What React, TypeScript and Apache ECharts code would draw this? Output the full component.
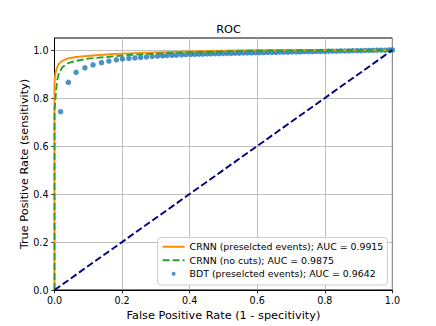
import React, { useEffect, useRef } from "react";
import * as echarts from "echarts";

const xTicks = [0, 0.2, 0.4, 0.6, 0.8, 1.0];
const yTicks = [0, 0.2, 0.4, 0.6, 0.8, 1.0];

const crnnFpr = [0, 0, 0.001, 0.003, 0.008, 0.013, 0.023, 0.04, 0.064, 0.104, 0.163, 0.218, 0.3, 0.4, 0.5, 0.6, 0.8, 1.0];
const crnnTpr = [0, 0.86, 0.885, 0.905, 0.928, 0.942, 0.955, 0.965, 0.971, 0.976, 0.982, 0.986, 0.99, 0.994, 0.997, 0.999, 1.0, 1.0];

const nocutFpr = [0, 0, 0.003, 0.005, 0.008, 0.013, 0.023, 0.04, 0.064, 0.104, 0.163, 0.218, 0.3, 0.4, 0.5, 0.6, 0.8, 1.0];
const nocutTpr = [0, 0.75, 0.8, 0.835, 0.875, 0.903, 0.928, 0.945, 0.955, 0.965, 0.972, 0.979, 0.985, 0.99, 0.994, 0.997, 1.0, 1.0];

const bdtFpr = [
  0.018, 0.041, 0.064, 0.09, 0.114, 0.139, 0.161, 0.183, 0.201, 0.22, 0.238, 0.255, 0.272, 0.289, 0.305, 0.32,
  0.333, 0.348, 0.361, 0.376, 0.389, 0.403, 0.415, 0.427, 0.439, 0.451, 0.463, 0.475, 0.487, 0.499, 0.511, 0.523,
  0.535, 0.547, 0.559, 0.571, 0.583, 0.595, 0.607, 0.619, 0.631, 0.643, 0.655, 0.667, 0.679, 0.691, 0.703, 0.715,
  0.727, 0.739, 0.751, 0.763, 0.775, 0.787, 0.799, 0.811, 0.823, 0.835, 0.847, 0.859, 0.871, 0.883, 0.895, 0.907,
  0.919, 0.931, 0.943, 0.955, 0.967, 0.979, 0.991, 1.0,
];
const bdtTpr = [
  0.743, 0.865, 0.907, 0.926, 0.938, 0.947, 0.954, 0.959, 0.963, 0.965, 0.967, 0.969, 0.971, 0.973, 0.975, 0.976,
  0.977, 0.978, 0.979, 0.98, 0.981, 0.982, 0.982, 0.983, 0.983, 0.984, 0.984, 0.985, 0.985, 0.986, 0.986, 0.986,
  0.987, 0.987, 0.988, 0.988, 0.988, 0.989, 0.989, 0.989, 0.99, 0.99, 0.99, 0.991, 0.991, 0.991, 0.992, 0.992,
  0.992, 0.993, 0.993, 0.993, 0.994, 0.994, 0.994, 0.995, 0.995, 0.995, 0.996, 0.996, 0.996, 0.997, 0.997, 0.997,
  0.998, 0.998, 0.998, 0.999, 0.999, 0.999, 1.0, 1.0,
];

const diagX = [0, 1];
const diagY = [0, 1];

const names = [
  "CRNN (preselcted events); AUC = 0.9915",
  "CRNN (no cuts); AUC = 0.9875",
  "BDT (preselcted events); AUC = 0.9642",
];

const FONT = "DejaVu Sans";

function zip(a: number[], b: number[]) {
  return a.map((v, i) => [v, b[i]]);
}

export default function App() {
  const ref = useRef<HTMLDivElement>(null);
  useEffect(() => {
    if (!ref.current) return;
    const chart = echarts.init(ref.current, undefined, { renderer: "svg" });
    const axisCommon = {
      axisLine: { show: true, lineStyle: { color: "#000", width: 1 } },
      axisTick: { show: true, length: 3.3, lineStyle: { color: "#000", width: 0.8 } },
      splitLine: { show: true, lineStyle: { color: "#b0b0b0", width: 0.8 } },
    };
    chart.setOption({
      animation: false,
      backgroundColor: "#fff",
      title: {
        text: "ROC",
        left: 223.5,
        textAlign: "center",
        top: 19,
        textStyle: { fontFamily: FONT, fontSize: 11.3, fontWeight: "normal", color: "#000" },
      },
      grid: {
        left: 54.5,
        right: 43.6,
        top: 38,
        bottom: 36,
        show: true,
        borderColor: "#000",
        borderWidth: 1,
        backgroundColor: "transparent",
      },
      xAxis: {
        type: "value",
        min: 0,
        max: 1,
        interval: 0.2,
        name: "False Positive Rate (1 - specitivity)",
        nameLocation: "middle",
        nameGap: 15,
        nameTextStyle: { fontFamily: FONT, fontSize: 11.3, color: "#000" },
        ...axisCommon,
        axisTick: { ...axisCommon.axisTick, customValues: xTicks },
        axisLabel: {
          customValues: xTicks,
          margin: 5,
          fontFamily: FONT,
          fontSize: 9.6,
          color: "#000",
          formatter: (v: number) => v.toFixed(1),
        },
      },
      yAxis: {
        type: "value",
        min: 0,
        max: 1.05,
        interval: 0.2,
        name: "True Positive Rate (sensitivity)",
        nameLocation: "middle",
        nameGap: 25,
        nameMoveOverlap: false,
        nameTextStyle: { fontFamily: FONT, fontSize: 11.3, color: "#000" },
        ...axisCommon,
        axisTick: { ...axisCommon.axisTick, customValues: yTicks },
        axisLabel: {
          customValues: yTicks,
          margin: 6,
          fontFamily: FONT,
          fontSize: 9.6,
          color: "#000",
          formatter: (v: number) => v.toFixed(1),
        },
      },
      legend: {
        orient: "vertical",
        right: 48.7,
        bottom: 41,
        align: "left",
        itemWidth: 22,
        itemHeight: 4,
        itemGap: 1,
        padding: [3, 4, 5, 4],
        borderColor: "#cccccc",
        borderWidth: 1,
        borderRadius: 3,
        backgroundColor: "rgba(255,255,255,0.8)",
        textStyle: { fontFamily: FONT, fontSize: 9.4, color: "#000", lineHeight: 12.5 },
        data: [
          { name: names[0], itemStyle: { opacity: 0 } },
          { name: names[1], itemStyle: { opacity: 0 } },
          { name: names[2], icon: "circle" },
        ],
      },
      series: [
        {
          name: names[2],
          type: "scatter",
          data: zip(bdtFpr, bdtTpr),
          symbol: "circle",
          symbolSize: 5.5,
          itemStyle: { color: "#1f77b4" },
          z: 1,
        },
        {
          name: names[0],
          type: "line",
          data: zip(crnnFpr, crnnTpr),
          symbol: "none",
          lineStyle: { color: "#ff8c00", width: 1.9 },
          itemStyle: { color: "#ff8c00" },
          z: 2,
        },
        {
          name: names[1],
          type: "line",
          data: zip(nocutFpr, nocutTpr),
          symbol: "none",
          lineStyle: { color: "#2ca02c", width: 1.9, type: [7, 3] },
          itemStyle: { color: "#2ca02c" },
          z: 3,
        },
        {
          name: "diag",
          type: "line",
          data: zip(diagX, diagY),
          symbol: "none",
          lineStyle: { color: "#000080", width: 1.9, type: [7, 3] },
          itemStyle: { color: "#000080" },
          z: 4,
        },
      ],
    });
    return () => chart.dispose();
  }, []);
  return <div ref={ref} style={{ position: "fixed", left: 0, top: 0, width: 436, height: 326 }} />;
}
